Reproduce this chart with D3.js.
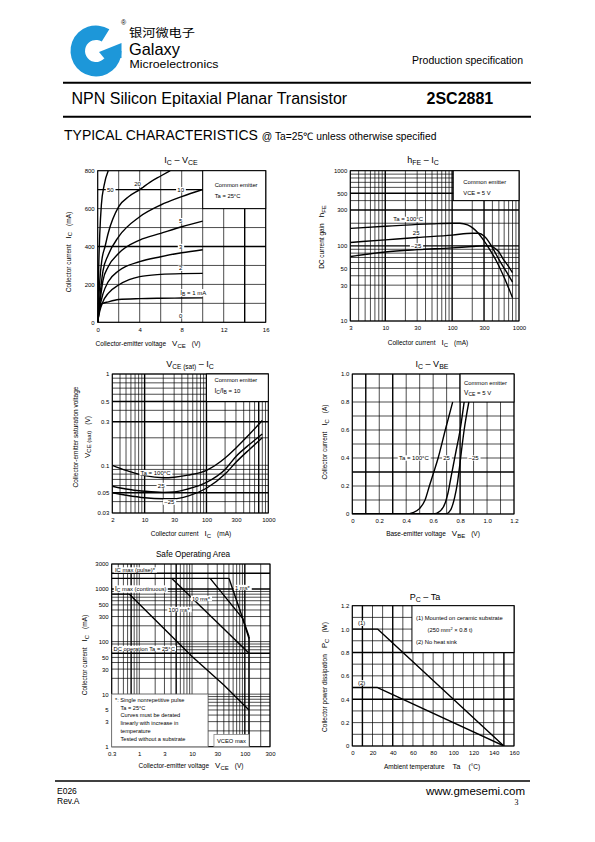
<!DOCTYPE html>
<html><head><meta charset="utf-8">
<script src="https://cdn.jsdelivr.net/npm/d3@7"></script>
<style>
html,body{margin:0;padding:0;background:#fff;}
svg{display:block;}
</style></head><body>
<svg id="page" width="595" height="842"></svg>
<script>
// ---------------- DATA ----------------
// Chart 1: IC - VCE  (VCE in V, IC in mA)
const c1XTicks = [0, 4, 8, 12, 16];
const c1YTicks = [0, 200, 400, 600, 800];
const ibNames = ["1", "2", "3", "5", "10", "20", "50"];
const ib1  = [[0,0],[0.1,40],[0.2,72],[0.4,98],[1,108],[2,120],[4,125],[6,127],[8,128],[10,129]];
const ib2  = [[0,0],[0.1,35],[0.2,60],[0.5,109],[1,153],[2,197],[3,225],[4,241],[6,253],[8,257],[10,258]];
const ib3  = [[0,0],[0.1,45],[0.2,80],[0.5,150],[1,214],[2,272],[4,320],[6,346],[8,367],[10,383]];
const ib5  = [[0,0],[0.1,55],[0.2,100],[0.5,220],[1,293],[2,364],[4,434],[6,469],[8,504],[10,534]];
const ib10 = [[0,0],[0.1,70],[0.2,130],[0.5,270],[1,355],[2,452],[4,557],[6,619],[8,663],[10,701]];
const ib20 = [[0,0],[0.1,120],[0.2,220],[0.4,330],[0.7,400],[1,470],[2,610],[3,665],[4,700],[5,740],[6,772],[6.9,800]];
const ib50 = [[0,0],[0.1,300],[0.2,470],[0.35,620],[0.6,720],[1,800]];

// Chart 2: hFE - IC (IC in mA)
const c2XTicks = [3, 10, 30, 100, 300, 1000];
const c2YTicks = [10, 30, 50, 100, 300, 500, 1000];
const hfe100 = [[3,171],[10,182],[20,189],[50,196],[100,200],[130,200],[170,190],[207,171],[250,145],[293,120],[350,95],[463,62],[600,38],[800,20.4]];
const hfe25  = [[3,111],[10,120],[30,129],[100,139],[200,147],[250,147],[300,135],[350,115],[400,95],[520,62],[650,45],[800,33]];
const hfeM25 = [[3,72],[10,83],[30,89],[100,94],[200,98],[300,100],[380,99],[450,91],[500,83],[584,66],[700,53],[800,44]];

// Chart 3: VCE(sat) - IC (IC in mA, V in V)
const c3XTicks = [3, 10, 30, 100, 300, 1000];
const c3XLabels = ["2", "10", "30", "100", "300", "1000"];
const c3YTicks = [0.03, 0.05, 0.1, 0.3, 0.5, 1];
const sat100 = [[3,0.1],[5,0.088],[10,0.077],[20,0.073],[30,0.074],[50,0.078],[100,0.088],[200,0.12],[300,0.155],[500,0.22],[800,0.31]];
const sat25  = [[3,0.059],[5,0.055],[10,0.052],[20,0.0505],[30,0.051],[50,0.055],[100,0.065],[200,0.09],[300,0.125],[500,0.17],[800,0.22]];
const satM25 = [[3,0.05],[5,0.047],[10,0.044],[20,0.043],[30,0.043],[50,0.046],[100,0.056],[200,0.08],[300,0.108],[500,0.15],[800,0.2]];

// Chart 4: IC - VBE (VBE in V, IC in A)
const c4XTicks = [0, 0.2, 0.4, 0.6, 0.8, 1.0, 1.2];
const c4YTicks = [0, 0.2, 0.4, 0.6, 0.8, 1.0];
const vbe100 = [[0,0],[0.4,0],[0.45,0.01],[0.5,0.04],[0.54,0.1],[0.572,0.2],[0.605,0.3],[0.637,0.4],[0.69,0.6],[0.745,0.8]];
const vbe25  = [[0,0],[0.6,0],[0.65,0.02],[0.69,0.08],[0.71,0.15],[0.73,0.25],[0.75,0.35],[0.77,0.45],[0.8,0.6],[0.83,0.8]];
const vbeM25 = [[0,0],[0.69,0],[0.73,0.03],[0.76,0.12],[0.78,0.22],[0.795,0.33],[0.81,0.45],[0.83,0.6],[0.865,0.8]];

// Chart 5: Safe operating area (VCE in V, IC in mA)
const c5XTicks = [0.3, 1, 3, 10, 30, 100, 300];
const c5YTicks = [1, 3, 5, 10, 30, 50, 100, 300, 500, 1000, 3000];
const soaPulse = [[0.3,1600],[50,1600]];
const soa1ms   = [[50,1600],[120,125]];
const soa10ms  = [[22,1600],[90,280],[120,115]];
const soa100ms = [[4.1,1600],[120,60]];
const soaDC    = [[0.3,800],[0.65,800],[10,52],[40,15],[120,5]];
const vceoMax  = [[120,1],[120,125]];

// Chart 6: PC - Ta (Ta in °C, PC in W)
const c6XTicks = [0, 20, 40, 60, 80, 100, 120, 140, 160];
const c6YTicks = [0, 0.2, 0.4, 0.6, 0.8, 1.0, 1.2];
const pc1 = [[0,1.0],[25,1.0],[150,0]];
const pc2 = [[0,0.5],[25,0.5],[150,0]];

// ---------------- HELPERS ----------------
const F = '"Liberation Sans", Arial, Helvetica, sans-serif';
const svg = d3.select("#page");

function rich(g, x, y, parts, opt) {
  opt = opt || {};
  const t = g.append("text").attr("x", x).attr("y", y)
    .attr("text-anchor", opt.anchor || "middle").attr("font-family", opt.family || F).attr("fill", "#000");
  if (opt.rotate) t.attr("transform", `rotate(-90 ${x} ${y})`);
  if (opt.weight) t.attr("font-weight", opt.weight);
  let cur = 0;
  parts.forEach(p => {
    const off = p.sub ? (p.sub === true ? 1.5 : p.sub) : 0;
    const ts = t.append("tspan").attr("font-size", p.s).text(p.t);
    if (off - cur !== 0) ts.attr("dy", off - cur);
    if (p.dx) ts.attr("dx", p.dx);
    cur = off;
  });
  return t;
}
const P = (t, s, o) => Object.assign({t, s}, o || {});

function boxed(g, x, y, parts, opt) {
  const t = rich(g, x, y, parts, opt);
  const b = t.node().getBBox();
  g.insert("rect", () => t.node()).attr("x", b.x - 1.2).attr("y", b.y + 0.3)
    .attr("width", b.width + 2.4).attr("height", b.height - 0.6).attr("fill", "#fff");
  return t;
}

function logGrid(lo, hi) {
  const out = [];
  for (let e = -3; e <= 4; e++) for (let m = 1; m <= 9; m++) {
    const v = +(m * Math.pow(10, e)).toPrecision(6);
    if (v >= lo * 0.9999 && v <= hi * 1.0001) out.push(v);
  }
  return out;
}

let clipId = 0;
function chart(o) {
  const g = svg.append("g");
  const x = o.x, y = o.y;
  const [xa, xb] = x.range(), [yb, ya] = y.range();
  const gl = g.append("g");
  gl.selectAll("line.gx").data(o.xGrid).join("line").attr("class", "gx")
    .attr("x1", d => x(d)).attr("x2", d => x(d)).attr("y1", yb).attr("y2", ya)
    .attr("stroke", "#000").attr("stroke-width", d => (o.xThick || []).includes(d) ? 1.4 : 0.7);
  gl.selectAll("line.gy").data(o.yGrid).join("line").attr("class", "gy")
    .attr("y1", d => y(d)).attr("y2", d => y(d)).attr("x1", xa).attr("x2", xb)
    .attr("stroke", "#000").attr("stroke-width", d => (o.yThick || []).includes(d) ? 1.4 : 0.7);
  g.append("rect").attr("x", xa).attr("y", ya).attr("width", xb - xa).attr("height", yb - ya)
    .attr("fill", "none").attr("stroke", "#000").attr("stroke-width", 1);
  const ax = d3.axisBottom(x).tickValues(o.xTicks).tickSize(0).tickPadding(5)
    .tickFormat((d, i) => o.xLabels ? o.xLabels[i] : d);
  g.append("g").attr("transform", `translate(0,${yb})`).call(ax)
    .call(s => { s.select(".domain").remove(); s.selectAll("text").attr("font-size", 6).attr("font-family", F); });
  const ay = d3.axisLeft(y).tickValues(o.yTicks).tickSize(0).tickPadding(3)
    .tickFormat((d, i) => o.yLabels ? o.yLabels[i] : d);
  g.append("g").attr("transform", `translate(${xa},0)`).call(ay)
    .call(s => { s.select(".domain").remove(); s.selectAll("text").attr("font-size", 6).attr("font-family", F); });
  const id = "clip" + (clipId++);
  svg.append("clipPath").attr("id", id).append("rect")
    .attr("x", xa).attr("y", ya).attr("width", xb - xa).attr("height", yb - ya);
  const curves = g.append("g").attr("clip-path", `url(#${id})`);
  const labels = g.append("g");
  return {g, curves, labels, gl};
}

function legendBox(c, x0, y0, x1, y1) {
  return c.g.insert("rect", () => c.curves.node())
    .attr("x", Math.min(x0, x1)).attr("y", Math.min(y0, y1))
    .attr("width", Math.abs(x1 - x0)).attr("height", Math.abs(y1 - y0))
    .attr("fill", "#fff").attr("stroke", "#000").attr("stroke-width", 1);
}

function drawLine(c, data, x, y, curve, w) {
  c.curves.append("path").datum(data)
    .attr("d", d3.line().x(d => x(d[0])).y(d => y(d[1])).curve(curve || d3.curveLinear))
    .attr("fill", "none").attr("stroke", "#000").attr("stroke-width", w || 1.3)
    .attr("stroke-linejoin", "round");
}

// ---------------- HEADER ----------------
const hdr = svg.append("g");
// logo
const logoBlue = "#1d97d9";
hdr.append("path")
  .attr("d", d3.arc().innerRadius(11).outerRadius(25.5).startAngle(Math.PI / 2).endAngle(2 * Math.PI + 0.55)())
  .attr("transform", "translate(96,51)").attr("fill", logoBlue);
hdr.append("path").attr("d", "M99,52 L121.5,43 L121.5,58 L104,58 Z").attr("fill", logoBlue);
hdr.append("text").attr("x", 121).attr("y", 25).attr("font-family", F).attr("font-size", 7).text("®");
hdr.append("text").attr("x", 129).attr("y", 37.3).attr("font-family", '"Noto Sans CJK SC", sans-serif')
  .attr("font-size", 11.5).attr("textLength", 66).attr("lengthAdjust", "spacingAndGlyphs").text("银河微电子");
hdr.append("text").attr("x", 129).attr("y", 55).attr("font-family", F).attr("font-size", 17)
  .attr("textLength", 51).attr("lengthAdjust", "spacingAndGlyphs").text("Galaxy");
hdr.append("text").attr("x", 129.5).attr("y", 67.5).attr("font-family", F).attr("font-size", 10.5)
  .attr("textLength", 89).attr("lengthAdjust", "spacingAndGlyphs").text("Microelectronics");
hdr.append("text").attr("x", 523).attr("y", 63.5).attr("text-anchor", "end").attr("font-family", F)
  .attr("font-size", 10.5).text("Production specification");
hdr.append("line").attr("x1", 63).attr("x2", 531).attr("y1", 82.7).attr("y2", 82.7).attr("stroke", "#000").attr("stroke-width", 2);
hdr.append("text").attr("x", 71.5).attr("y", 103.5).attr("font-family", F).attr("font-size", 16)
  .text("NPN Silicon Epitaxial Planar Transistor");
hdr.append("text").attr("x", 426.5).attr("y", 103.5).attr("font-family", F).attr("font-size", 16)
  .attr("font-weight", "bold").text("2SC2881");
hdr.append("line").attr("x1", 63).attr("x2", 531).attr("y1", 116.7).attr("y2", 116.7).attr("stroke", "#000").attr("stroke-width", 2);
rich(hdr, 64, 139.5, [P("TYPICAL CHARACTERISTICS", 14), P(" @ Ta=25℃ unless otherwise specified", 10.3, {dx: 1})], {anchor: "start"});

// ---------------- FOOTER ----------------
hdr.append("line").attr("x1", 55).attr("x2", 530).attr("y1", 781).attr("y2", 781).attr("stroke", "#000").attr("stroke-width", 1.5);
hdr.append("text").attr("x", 57).attr("y", 793.5).attr("font-family", F).attr("font-size", 8.5).text("E026");
hdr.append("text").attr("x", 57).attr("y", 803.5).attr("font-family", F).attr("font-size", 8.5).text("Rev.A");
hdr.append("text").attr("x", 525).attr("y", 794.5).attr("text-anchor", "end").attr("font-family", F).attr("font-size", 11.5).text("www.gmesemi.com");
hdr.append("text").attr("x", 518.5).attr("y", 805).attr("text-anchor", "end").attr("font-family", '"Liberation Serif", serif').attr("font-size", 8).text("3");

// ---------------- CHART 1: IC - VCE ----------------
{
  const x = d3.scaleLinear().domain([0, 16]).range([97.7, 265.7]);
  const y = d3.scaleLinear().domain([0, 800]).range([322.3, 170.7]);
  const c = chart({x, y, xGrid: d3.range(0, 17, 2), yGrid: d3.range(0, 801, 100),
    xThick: [14], yThick: [400, 700], xTicks: c1XTicks, yTicks: c1YTicks});
  legendBox(c, x(10), y(800), x(16), y(600));
  rich(c.labels, x(10) + 12, 187, [P("Common emitter", 5.8)], {anchor: "start"});
  rich(c.labels, x(10) + 12, 198, [P("Ta = 25°C", 5.8)], {anchor: "start"});
  [ib1, ib2, ib3, ib5, ib10, ib20, ib50].forEach(s => drawLine(c, s, x, y, d3.curveMonotoneX, 1.4));
  const L = [["50", 1.2, 700], ["20", 3.8, 730], ["10", 7.9, 700], ["5", 7.9, 536], ["3", 7.9, 400], ["2", 7.9, 285], ["0", 7.9, 35]];
  L.forEach(l => boxed(c.labels, x(l[1]), y(l[2]) + 2, [P(l[0], 6)]));
  boxed(c.labels, x(9.1), y(156) + 2, [P("I", 6.5), P("B", 5, {sub: 1}), P(" = 1 mA", 6)]);
  rich(c.g, 181, 163, [P("I", 9), P("C", 7, {sub: 1.5}), P(" – V", 9), P("CE", 7, {sub: 1.5})]);
  rich(c.g, 148, 346, [P("Collector-emitter voltage", 6.5), P("V", 8, {dx: 6}), P("CE", 6, {sub: 1.5}), P("(V)", 6.5, {dx: 6})]);
  rich(c.g, 70.5, 252, [P("Collector current", 6.5), P("I", 8, {dx: 6}), P("C", 6, {sub: 1.5}), P("(mA)", 6.5, {dx: 6})], {rotate: true});
}

// ---------------- CHART 2: hFE - IC ----------------
{
  const x = d3.scaleLog().domain([3, 1000]).range([350.3, 519]);
  const y = d3.scaleLog().domain([10, 1000]).range([321, 170.7]);
  const c = chart({x, y, xGrid: logGrid(3, 1000), yGrid: logGrid(10, 1000),
    xThick: [10, 100, 300], yThick: [100, 300, 500], xTicks: c2XTicks, yTicks: c2YTicks});
  legendBox(c, x(104), y(1000), x(1000), y(400));
  rich(c.labels, x(104) + 10, 184, [P("Common emitter", 5.8)], {anchor: "start"});
  rich(c.labels, x(104) + 10, 195, [P("VCE = 5 V", 5.8)], {anchor: "start"});
  [hfe100, hfe25, hfeM25].forEach(s => drawLine(c, s, x, y, d3.curveMonotoneX, 1.4));
  boxed(c.labels, x(22), y(225) + 2, [P("Ta = 100°C", 6)]);
  boxed(c.labels, x(29), y(147) + 2, [P("25", 6)]);
  boxed(c.labels, x(29), y(100) + 2, [P("−25", 6)]);
  rich(c.g, 423, 163, [P("h", 9), P("FE", 7, {sub: 1.5}), P(" – I", 9), P("C", 7, {sub: 1.5})]);
  rich(c.g, 428, 345, [P("Collector current", 6.5), P("I", 8, {dx: 6}), P("C", 6, {sub: 1.5}), P("(mA)", 6.5, {dx: 6})]);
  rich(c.g, 324, 237, [P("DC current gain", 6.5), P("h", 8, {dx: 6}), P("FE", 6, {sub: 1.5})], {rotate: true});
}

// ---------------- CHART 3: VCE(sat) - IC ----------------
{
  const x = d3.scaleLog().domain([3, 1000]).range([112.3, 268.3]);
  const y = d3.scaleLog().domain([0.03, 1]).range([513, 374]);
  const c = chart({x, y, xGrid: logGrid(3, 1000), yGrid: logGrid(0.03, 1),
    xThick: [10, 100, 700], yThick: [0.05, 0.3, 0.5], xTicks: c3XTicks, xLabels: c3XLabels,
    yTicks: c3YTicks});
  legendBox(c, x(100), y(1), x(1000), y(0.5));
  rich(c.labels, x(100) + 8, 382, [P("Common emitter", 5.8)], {anchor: "start"});
  rich(c.labels, x(100) + 8, 393, [P("I", 6.5), P("C", 5, {sub: 1}), P("/I", 6.5), P("B", 5, {sub: 1}), P(" = 10", 6)], {anchor: "start"});
  [sat100, sat25, satM25].forEach(s => drawLine(c, s, x, y, d3.curveMonotoneX, 1.4));
  boxed(c.labels, x(15), y(0.083) + 2, [P("Ta = 100°C", 6)]);
  boxed(c.labels, x(18.5), y(0.06) + 2, [P("25", 6)]);
  boxed(c.labels, x(25), y(0.0395) + 2, [P("−25", 6)]);
  rich(c.g, 190, 367, [P("V", 9), P("CE (sat)", 6.5, {sub: 1.5}), P(" – I", 9), P("C", 7, {sub: 1.5})]);
  rich(c.g, 191, 536, [P("Collector current", 6.5), P("I", 8, {dx: 6}), P("C", 6, {sub: 1.5}), P("(mA)", 6.5, {dx: 6})]);
  rich(c.g, 78, 437, [P("Collector-emitter saturation voltage", 6.5)], {rotate: true});
  rich(c.g, 89.5, 437, [P("V", 8), P("CE (sat)", 6, {sub: 1.5}), P("(V)", 6.5, {dx: 6})], {rotate: true});
}

// ---------------- CHART 4: IC - VBE ----------------
{
  const x = d3.scaleLinear().domain([0, 1.2]).range([352.3, 514]);
  const y = d3.scaleLinear().domain([0, 1.0]).range([514, 374]);
  const c = chart({x, y, xGrid: d3.range(0, 13).map(d => d / 10), yGrid: d3.range(0, 11).map(d => d / 10),
    xThick: [0.1, 0.3, 0.8], yThick: [0.3], xTicks: c4XTicks, yTicks: c4YTicks,
    xLabels: c4XTicks.map(d => d === 0 ? "0" : d3.format(".1f")(d)),
    yLabels: c4YTicks.map(d => d === 0 ? "0" : d3.format(".1f")(d))});
  legendBox(c, x(0.8), y(1.0), x(1.2), y(0.8));
  rich(c.labels, x(0.8) + 4, 384.5, [P("Common emitter", 5.8)], {anchor: "start"});
  rich(c.labels, x(0.8) + 4, 395, [P("V", 6.5), P("CE", 5, {sub: 1}), P(" = 5 V", 6)], {anchor: "start"});
  [vbe100, vbe25, vbeM25].forEach(s => drawLine(c, s, x, y, d3.curveMonotoneX, 1.4));
  boxed(c.labels, x(0.457), y(0.4) + 2, [P("Ta = 100°C", 6)]);
  boxed(c.labels, x(0.70), y(0.4) + 2, [P("25", 6)]);
  boxed(c.labels, x(0.90), y(0.4) + 2, [P("−25", 6)]);
  rich(c.g, 432, 367, [P("I", 9), P("C", 7, {sub: 1.5}), P(" – V", 9), P("BE", 7, {sub: 1.5})]);
  rich(c.g, 433, 536, [P("Base-emitter voltage", 6.5), P("V", 8, {dx: 6}), P("BE", 6, {sub: 1.5}), P("(V)", 6.5, {dx: 6})]);
  rich(c.g, 327, 442, [P("Collector current", 6.5), P("I", 8, {dx: 6}), P("C", 6, {sub: 1.5}), P("(A)", 6.5, {dx: 6})], {rotate: true});
}

// ---------------- CHART 5: SOA ----------------
{
  const x = d3.scaleLog().domain([0.3, 300]).range([111.7, 270]);
  const y = d3.scaleLog().domain([1, 3000]).range([746.7, 564]);
  const c = chart({x, y, xGrid: logGrid(0.3, 300), yGrid: logGrid(1, 3000),
    xThick: [0.7, 5, 100], yThick: [60, 1000, 2000], xTicks: c5XTicks, yTicks: c5YTicks});
  [soaPulse, soa1ms, soa10ms, soa100ms, soaDC].forEach(s => drawLine(c, s, x, y, d3.curveLinear, 1.4));
  drawLine(c, vceoMax, x, y, d3.curveLinear, 1.6);
  // notes box
  c.labels.append("rect").attr("x", x(0.3)).attr("y", y(10)).attr("width", x(20) - x(0.3)).attr("height", y(1) - y(10))
    .attr("fill", "#fff").attr("stroke", "#888").attr("stroke-width", 0.8);
  const notes = ["*: Single nonrepetitive pulse", "Ta = 25°C", "Curves must be derated", "linearly with increase in", "temperature", "Tested without a substrate"];
  notes.forEach((t, i) => rich(c.labels, i === 0 ? 115 : 120.5, 702 + i * 7.7, [P(t, 5.6)], {anchor: "start"}));
  c.labels.append("rect").attr("x", x(26)).attr("y", y(1.7)).attr("width", x(120) - x(26)).attr("height", y(1) - y(1.7))
    .attr("fill", "#fff").attr("stroke", "#888").attr("stroke-width", 0.8);
  rich(c.labels, x(26) + 3, 743, [P("VCEO max", 5.8)], {anchor: "start"});
  boxed(c.labels, 115, 572, [P("IC max (pulse)*", 5.8)], {anchor: "start"});
  boxed(c.labels, 115, 591, [P("I", 6.5), P("C", 5, {sub: 1}), P(" max (continuous)", 5.8)], {anchor: "start"});
  boxed(c.labels, 235, 589.5, [P("1 ms*", 5.8)], {anchor: "start"});
  boxed(c.labels, 192, 600.5, [P("10 ms*", 5.8)], {anchor: "start"});
  boxed(c.labels, 168.5, 611.5, [P("100 ms*", 5.8)], {anchor: "start"});
  boxed(c.labels, 113.5, 650.5, [P("DC operation Ta = 25°C", 5.8)], {anchor: "start"});
  rich(c.g, 193, 557, [P("Safe Operating Area", 8.2)]);
  rich(c.g, 191, 768, [P("Collector-emitter voltage", 6.5), P("V", 8, {dx: 6}), P("CE", 6, {sub: 1.5}), P("(V)", 6.5, {dx: 6})]);
  rich(c.g, 87, 655, [P("Collector current", 6.5), P("I", 8, {dx: 6}), P("C", 6, {sub: 1.5}), P("(mA)", 6.5, {dx: 6})], {rotate: true});
}

// ---------------- CHART 6: PC - Ta ----------------
{
  const x = d3.scaleLinear().domain([0, 160]).range([352.3, 514]);
  const y = d3.scaleLinear().domain([0, 1.2]).range([746, 605.7]);
  const c = chart({x, y, xGrid: d3.range(0, 161, 10), yGrid: d3.range(0, 13).map(d => d / 10),
    xThick: [10, 40, 150], yThick: [0.4, 0.8], xTicks: c6XTicks, yTicks: c6YTicks,
    yLabels: c6YTicks.map(d => d === 0 ? "0" : d3.format(".1f")(d))});
  legendBox(c, x(59), y(1.2), x(160), y(0.8));
  rich(c.labels, 416, 620, [P("(1) Mounted on ceramic substrate", 5.8)], {anchor: "start"});
  rich(c.labels, 427.5, 631.5, [P("(250 mm", 5.8), P("2", 4, {sub: -2}), P(" × 0.8 t)", 5.8)], {anchor: "start"});
  rich(c.labels, 416, 643.5, [P("(2) No heat sink", 5.8)], {anchor: "start"});
  [pc1, pc2].forEach(s => drawLine(c, s, x, y, d3.curveLinear, 1.4));
  boxed(c.labels, x(9.3), y(1.05) + 2, [P("(1)", 6)]);
  boxed(c.labels, x(9.3), y(0.54) + 2, [P("(2)", 6)]);
  rich(c.g, 425, 600, [P("P", 9), P("C", 7, {sub: 1.5}), P(" – Ta", 9)]);
  rich(c.g, 432, 769, [P("Ambient temperature", 6.5), P("Ta", 7.5, {dx: 8}), P("(°C)", 6.5, {dx: 8})]);
  rich(c.g, 327, 677, [P("Collector power dissipation", 6.5), P("P", 8, {dx: 6}), P("C", 6, {sub: 1.5}), P("(W)", 6.5, {dx: 6})], {rotate: true});
}
</script>
</body></html>
